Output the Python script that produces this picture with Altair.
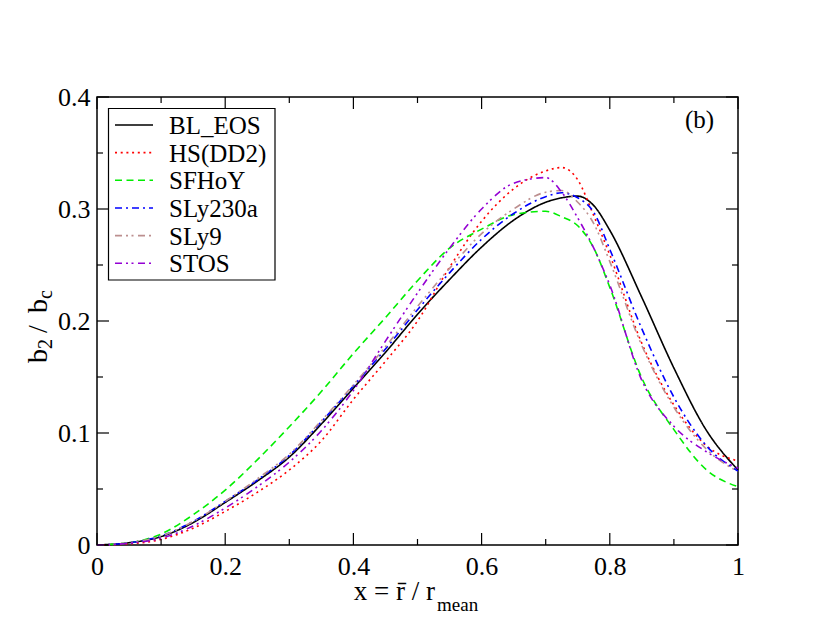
import altair as alt
import pandas as pd

# ---- data ----
x_grid = [0, .05, .1, .15, .2, .25, .3, .35, .4, .45, .5, .55, .6, .65, .7,
          .725, .75, .775, .8, .85, .9, .95, 1.0]

bl_eos  = [0, .002, .0075, .020, .038, .057, .0785, .108, .140, .172, .206, .237,
           .266, .290, .306, .310, .3115, .303, .281, .221, .158, .103, .067]
hs_dd2  = [0, .001, .005, .015, .030, .047, .067, .093, .130, .164, .200, .248,
           .289, .318, .334, .337, .326, .294, .259, .180, .125, .089, .075]
sfhoy   = [0, .002, .0098, .027, .049, .076, .1056, .137, .171, .203, .236, .265,
           .282, .295, .298, .293, .285, .265, .230, .149, .103, .0675, .052]
sly230a = [0, .002, .008, .021, .039, .058, .080, .110, .142, .175, .210, .243,
           .273, .296, .311, .3145, .310, .297, .264, .193, .132, .089, .066]
sly9    = [0, .002, .008, .021, .039, .059, .081, .111, .143, .177, .213, .247,
           .278, .300, .315, .3165, .306, .287, .253, .178, .123, .086, .0655]
stos    = [0, .0015, .006, .017, .033, .052, .074, .102, .138, .182, .225, .265,
           .300, .323, .328, .315, .292, .265, .232, .147, .106, .0835, .0685]

names  = ["BL_EOS", "HS(DD2)", "SFHoY", "SLy230a", "SLy9", "STOS"]
series = [bl_eos, hs_dd2, sfhoy, sly230a, sly9, stos]
colors = ["#000000", "#ff0000", "#00ee00", "#0000ff", "#bc8f8f", "#9400d3"]
dashes = [[1, 0], [2, 3.7], [7, 4.5], [7, 4, 2, 4], [7, 4, 2, 3.5, 2, 4.5], [7, 4, 2, 3.5, 2, 4.5]]

x_major = [0, 0.2, 0.4, 0.6, 0.8, 1.0]
x_minor = [0.1, 0.3, 0.5, 0.7, 0.9]
y_major = [0, 0.1, 0.2, 0.3, 0.4]
y_minor = [0.05, 0.15, 0.25, 0.35]

W, H = 641, 448
FONT = "Liberation Serif"

rows = []
for n, ys in zip(names, series):
    for xv, yv in zip(x_grid, ys):
        rows.append({"x": xv, "y": yv, "name": n})
df = pd.DataFrame(rows)

xs = alt.Scale(domain=[0, 1], nice=False, zero=False)
ys_ = alt.Scale(domain=[0, 0.4], nice=False, zero=False)

lines = alt.Chart(df).mark_line(strokeWidth=1.6, interpolate="monotone").encode(
    x=alt.X("x:Q", scale=xs,
            axis=alt.Axis(values=x_major, format="~g", ticks=False, domain=False,
                          grid=False, title=None, labelFont=FONT, labelFontSize=26,
                          labelColor="black", labelPadding=8, labelFlush=False)),
    y=alt.Y("y:Q", scale=ys_,
            axis=alt.Axis(values=y_major, format="~g", ticks=False, domain=False,
                          grid=False, title=None, labelFont=FONT, labelFontSize=26,
                          labelColor="black", labelPadding=7, labelFlush=False)),
    color=alt.Color("name:N", scale=alt.Scale(domain=names, range=colors), legend=None),
    strokeDash=alt.StrokeDash("name:N", scale=alt.Scale(domain=names, range=dashes), legend=None),
)

def xticks(vals, length):
    d = pd.DataFrame({"v": vals})
    b = alt.Chart(d).mark_rule(color="black", strokeWidth=1.2).encode(
        x=alt.X("v:Q", scale=xs), y=alt.value(H), y2=alt.value(H - length))
    t = alt.Chart(d).mark_rule(color="black", strokeWidth=1.2).encode(
        x=alt.X("v:Q", scale=xs), y=alt.value(0), y2=alt.value(length))
    return [b, t]

def yticks(vals, length):
    d = pd.DataFrame({"v": vals})
    l = alt.Chart(d).mark_rule(color="black", strokeWidth=1.2).encode(
        y=alt.Y("v:Q", scale=ys_), x=alt.value(0), x2=alt.value(length))
    r = alt.Chart(d).mark_rule(color="black", strokeWidth=1.2).encode(
        y=alt.Y("v:Q", scale=ys_), x=alt.value(W), x2=alt.value(W - length))
    return [l, r]

def label(text, x, y, size, align="left", angle=0, baseline="alphabetic"):
    d = pd.DataFrame({"t": [text]})
    kw = dict(font=FONT, fontSize=size, color="black", align=align, baseline=baseline)
    if angle:
        kw["angle"] = angle
    return alt.Chart(d).mark_text(**kw).encode(
        x=alt.value(x), y=alt.value(y), text="t:N")

texts = [
    # x title: x = r̄ / r_mean
    label("x = r\u0304 / r", 338, 503, 27, align="right"),
    label("mean", 340, 514, 19),
    # y title: b_2 / b_c (rotated)
    label("b", -50, 266, 28, angle=270),
    label("2", -45, 252, 20, angle=270),
    label("/", -50, 236, 28, angle=270),
    label("b", -50, 216, 28, angle=270),
    label("c", -45, 202, 20, angle=270),
    # panel tag
    label("(b)", 588, 31, 25),
]

# ---- legend box (drawn by hand to match the reference layout) ----
legend_layers = [
    alt.Chart(pd.DataFrame({"k": [0]})).mark_rect(
        fill="white", stroke="black", strokeWidth=1.2).encode(
        x=alt.value(11.5), x2=alt.value(178), y=alt.value(11.5), y2=alt.value(183))
]
for i, (n, c, dsh) in enumerate(zip(names, colors, dashes)):
    yy = 28 + 27.65 * i
    d = pd.DataFrame({"t": [n]})
    legend_layers.append(
        alt.Chart(d).mark_rule(color=c, strokeDash=dsh, strokeWidth=1.6).encode(
            x=alt.value(18), x2=alt.value(56), y=alt.value(yy)))
    legend_layers.append(
        alt.Chart(d).mark_text(font=FONT, fontSize=25, color="black", align="left",
                               baseline="middle").encode(
            x=alt.value(72), y=alt.value(yy + 1), text="t:N"))

layers = ([lines] + xticks(x_major, 12) + xticks(x_minor, 6) + yticks(y_major, 12)
          + yticks(y_minor, 6) + texts + legend_layers)

chart = alt.layer(*layers).properties(
    width=W, height=H,
    autosize=alt.AutoSizeParams(type="none"),
    padding={"left": 89, "top": 89, "right": 30, "bottom": 90},
    background="white",
).configure_view(stroke="black", strokeWidth=1.5)

chart.save("out.html", embed_options={"renderer": "svg", "actions": False})
